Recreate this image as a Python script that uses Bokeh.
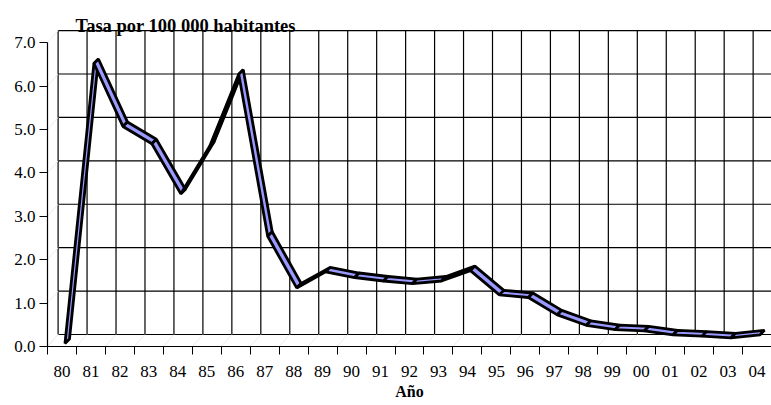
from bokeh.plotting import figure
from bokeh.models import Range1d, FixedTicker, ColumnDataSource, Label, PrintfTickFormatter
from bokeh.embed import file_html
from bokeh.resources import INLINE

# ---- data -------------------------------------------------------------
years = ["80", "81", "82", "83", "84", "85", "86", "87", "88", "89",
         "90", "91", "92", "93", "94", "95", "96", "97", "98", "99",
         "00", "01", "02", "03", "04"]
rates = [0.00, 6.45, 5.00, 4.60, 3.45, 4.55, 6.20, 2.47, 1.28, 1.65,
         1.52, 1.44, 1.38, 1.44, 1.68, 1.12, 1.06, 0.66, 0.42, 0.32,
         0.29, 0.20, 0.17, 0.13, 0.20]
y_ticks = [0, 1, 2, 3, 4, 5, 6, 7]
title_text = "Tasa por 100 000 habitantes"
x_title = "Año"

# ---- geometry / style ---------------------------------------------------
W, H = 771, 405
LEFT = 47
FRAME_H = 346
N = len(years)
Y_TOP = 7.97
px_x = (W - LEFT) / N          # pixels per category
px_y = FRAME_H / Y_TOP         # pixels per unit

def dx(px):
    return px / px_x

def dy(px):
    return px / px_y

WALL_X, WALL_Y = dx(10.6), dy(12)      # depth offset of back wall
FR_X, FR_Y = dx(3), dy(3)              # ribbon front plane
RB_X, RB_Y = dx(4.5), dy(4.5)          # ribbon depth

FONT = "Liberation Serif"
RIBBON = "#9999FF"

p = figure(width=W, height=H, output_backend="svg", toolbar_location=None,
           x_range=Range1d(0, N), y_range=Range1d(0, Y_TOP),
           min_border_left=LEFT, min_border_right=0, min_border_top=0,
           min_border_bottom=H - FRAME_H)
p.outline_line_color = None
p.xgrid.visible = False
p.ygrid.visible = False
p.background_fill_color = "white"
p.border_fill_color = "white"

# ---- back wall & faint floor / side wall lines ----------------------------
ymax = y_ticks[-1]
hx0, hx1, hy = [], [], []
for v in y_ticks:
    hx0.append(0 + WALL_X)
    hx1.append(N + WALL_X)
    hy.append(v + WALL_Y)
p.segment(x0=hx0, y0=hy, x1=hx1, y1=hy, line_color="black", line_width=1.2)

vx, vy0, vy1 = [], [], []
for i in range(N + 1):
    vx.append(i + WALL_X)
    vy0.append(0 + WALL_Y)
    vy1.append(ymax + WALL_Y)
p.segment(x0=vx, y0=vy0, x1=vx, y1=vy1, line_color="black", line_width=1.2)

# faint floor lines
fx0 = list(range(N + 1))
fx1 = [i + WALL_X for i in fx0]
p.segment(x0=fx0, y0=[0] * len(fx0), x1=fx1, y1=[WALL_Y] * len(fx0),
          line_color="#ececec", line_width=1)
# faint side-wall lines
p.segment(x0=[0] * len(y_ticks), y0=y_ticks, x1=[WALL_X] * len(y_ticks),
          y1=[v + WALL_Y for v in y_ticks], line_color="#ececec", line_width=1)

# ---- 3D ribbon built from the data ---------------------------------------
xs, ys = [], []
for i in range(N - 1):
    xa = i + 0.5 + FR_X
    xb = i + 1.5 + FR_X
    ya = rates[i] + FR_Y
    yb = rates[i + 1] + FR_Y
    xs.append([xa, xb, xb + RB_X, xa + RB_X])
    ys.append([ya, yb, yb + RB_Y, ya + RB_Y])
src = ColumnDataSource(dict(xs=xs, ys=ys))
p.patches("xs", "ys", source=src, fill_color=RIBBON, line_color="black",
          line_width=2.8, line_join="bevel")

# ---- axes ------------------------------------------------------------------
centers = [i + 0.5 for i in range(N)]
bounds = list(range(N + 1))
xa = p.xaxis[0]
xa.ticker = FixedTicker(ticks=centers, minor_ticks=bounds)
xa.major_label_overrides = {c: lab for c, lab in zip(centers, years)}
xa.major_tick_out = 0
xa.major_tick_in = 0
xa.minor_tick_out = 8
xa.minor_tick_in = 0
xa.minor_tick_line_color = "black"
xa.axis_line_color = "black"
xa.axis_line_width = 1.2
xa.major_label_text_font = FONT
xa.major_label_text_font_size = "17px"
xa.major_label_text_color = "black"
xa.major_label_standoff = 11
xa.axis_label = x_title
xa.axis_label_text_font = FONT
xa.axis_label_text_font_size = "16px"
xa.axis_label_text_font_style = "bold"
xa.axis_label_text_color = "black"
xa.axis_label_standoff = 3
xa.bounds = (0, N)

ya_ = p.yaxis[0]
ya_.ticker = FixedTicker(ticks=y_ticks)
ya_.formatter = PrintfTickFormatter(format="%.1f")
ya_.major_tick_out = 8
ya_.major_tick_in = 0
ya_.minor_tick_out = 0
ya_.minor_tick_in = 0
ya_.major_tick_line_color = "black"
ya_.axis_line_color = "black"
ya_.axis_line_width = 1.2
ya_.major_label_text_font = FONT
ya_.major_label_text_font_size = "17px"
ya_.major_label_text_color = "black"
ya_.major_label_standoff = 4
ya_.bounds = (0, ymax)

# ---- title -------------------------------------------------------------------
p.add_layout(Label(x=dx(28), y=Y_TOP - dy(25), text=title_text,
                   text_font=FONT, text_font_style="bold", text_font_size="18.5px",
                   text_color="black", text_baseline="alphabetic"))

open("out.html", "w").write(file_html(p, INLINE))
